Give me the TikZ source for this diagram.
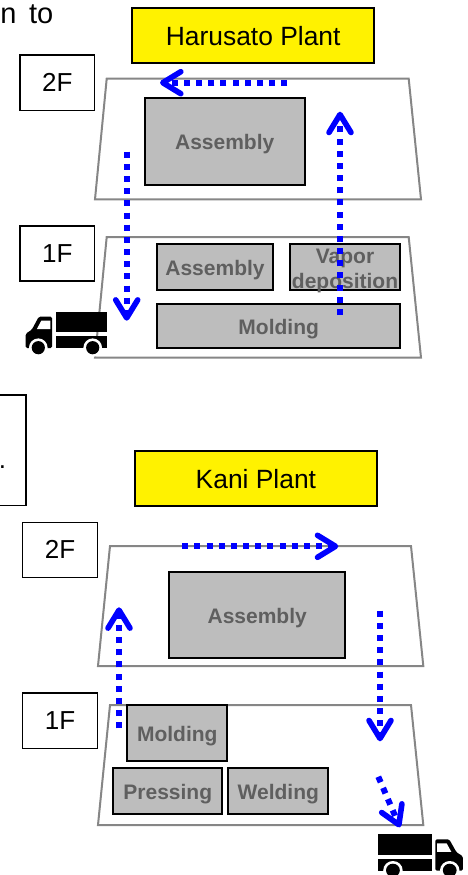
\documentclass[tikz,border=0pt]{standalone}
\usepackage{fontspec}
\setmainfont{Liberation Sans}
\usetikzlibrary{arrows.meta}
\definecolor{boxgray}{HTML}{BDBDBD}
\definecolor{labelgray}{HTML}{5F5F5F}
\definecolor{floorgray}{HTML}{868686}
\definecolor{flowblue}{HTML}{0000FF}
\tikzset{
  title/.style={draw=black,line width=1.8pt,fill=yellow,inner sep=0pt,outer sep=0pt,text height=21pt,text depth=0pt,font=\fontsize{26.4}{28}\selectfont},
  floorbox/.style={draw=black,line width=1.5pt,fill=white,inner sep=0pt,outer sep=0pt,minimum width=74.7pt,minimum height=55.3pt,text height=17.8pt,text depth=0pt,font=\fontsize{26}{28}\selectfont},
  area/.style={draw=black,line width=1.8pt,fill=boxgray,inner sep=0pt,outer sep=0pt,text=labelgray,align=center,text height=16.6pt,text depth=0pt,font=\fontsize{21}{25}\selectfont\bfseries},
  floorline/.style={draw=floorgray,line width=2pt,line join=miter},
  flow/.style={draw=flowblue,line width=6pt,dash pattern=on 6pt off 6.17pt,-{Straight Barb[length=18pt,width=22pt,line width=5.6pt,round]}},
  plain/.style={inner sep=0pt,outer sep=0pt,font=\fontsize{29}{30}\selectfont},
  truck/.pic={
    \fill[black] (30.4,0) rectangle (82,20.3);
    \fill[black] (30.4,24.3) rectangle (82,36.3);
    \fill[black,rounded corners=1.5pt] (26.8,36.3) -- (26.8,5) -- (13.5,5) -- (6.5,18) -- (0.4,22) -- (0.4,36.3) -- cycle;
    \fill[white] (25,9) -- (16,9) -- (11.5,17.5) -- (25,17.5) -- cycle;
    \fill[white] (13,36) circle (9.3);
    \fill[white] (67.4,36) circle (9.3);
    \fill[black] (13,36) circle (6.6);
    \fill[black] (67.4,36) circle (6.6);
  }
}
\begin{document}
\begin{tikzpicture}[x=1pt,y=-1pt]
\useasboundingbox (0,0) rectangle (467,875);
\clip (0,0) rectangle (467,875);

% cut-off texts and box at the left edge
\node[plain,anchor=base west] (cutn) at (0.3,24) {n};
\node[plain,anchor=base west] (cutto) at (29,24) {to};
\node[draw=black,line width=1.5pt,fill=white,inner sep=0pt,outer sep=0pt,minimum width=36pt,minimum height=110.7pt] (cutbox) at (8,450.3) {};
\node[plain,anchor=base west,font=\fontsize{26}{28}\selectfont] (cutdot) at (-1.2,468) {.};

% Harusato Plant
\coordinate (a1) at (106.7,78.7); \coordinate (a2) at (408.7,78.7);
\coordinate (a3) at (421,199.3);  \coordinate (a4) at (95,199.3);
\draw[floorline] (a1) -- (a2) -- (a3) -- (a4) -- cycle;
\coordinate (b1) at (106.7,237); \coordinate (b2) at (408.7,237);
\coordinate (b3) at (421,357.7); \coordinate (b4) at (95,357.7);
\draw[floorline] (b1) -- (b2) -- (b3) -- (b4) -- cycle;
\node[title,minimum width=242.3pt,minimum height=55pt] (hplant) at (253.2,35.2) {Harusato Plant};
\node[floorbox] (h2f) at (57.3,82.8) {2F};
\node[floorbox] (h1f) at (57.3,253.5) {1F};
\node[area,minimum width=160pt,minimum height=86.4pt] (hasm2) at (224.7,141.5) {Assembly};
\node[area,minimum width=115.4pt,minimum height=46pt] (hasm1) at (215,267) {Assembly};
\node[area,minimum width=110pt,minimum height=46pt,text height=42.6pt] (hvap) at (345,267) {Vapor\\deposition};
\node[area,minimum width=242.7pt,minimum height=43.4pt] (hmold) at (278.7,326) {Molding};
\pic (htruck) at (25.3,311.7) {truck};
\coordinate (f1s) at (287.3,82.7); \coordinate (f1e) at (160,82.7);
\coordinate (f2s) at (126.7,151.7); \coordinate (f2e) at (126.7,320.7);
\coordinate (f3s) at (340,315); \coordinate (f3e) at (340,111.7);
\draw[flow] (f1s) -- (f1e);
\draw[flow] (f2s) -- (f2e);
\draw[flow] (f3s) -- (f3e);

% Kani Plant
\coordinate (c1) at (110,546); \coordinate (c2) at (411,546);
\coordinate (c3) at (423.3,666); \coordinate (c4) at (98,666);
\draw[floorline] (c1) -- (c2) -- (c3) -- (c4) -- cycle;
\coordinate (d1) at (110,705); \coordinate (d2) at (411,705);
\coordinate (d3) at (423.3,825); \coordinate (d4) at (98,825);
\draw[floorline] (d1) -- (d2) -- (d3) -- (d4) -- cycle;
\node[title,minimum width=242.3pt,minimum height=55.3pt] (kplant) at (255.9,478.3) {Kani Plant};
\node[floorbox] (k2f) at (60,550) {2F};
\node[floorbox] (k1f) at (60,720.7) {1F};
\node[area,minimum width=175.7pt,minimum height=86.3pt] (kasm) at (257.2,614.8) {Assembly};
\node[area,minimum width=100pt,minimum height=55.7pt] (kmold) at (177.3,732.8) {Molding};
\node[area,minimum width=109pt,minimum height=46.3pt] (kpress) at (167.8,790.8) {Pressing};
\node[area,minimum width=100pt,minimum height=46.3pt] (kweld) at (278.3,790.8) {Welding};
\pic[xscale=-1.044] (ktruck) at (463.3,834.3) {truck};
\coordinate (g1s) at (182.3,546.3); \coordinate (g1e) at (338.3,546.3);
\coordinate (g2s) at (119,728.3); \coordinate (g2e) at (119,607.3);
\coordinate (g3s) at (380,610.7); \coordinate (g3e) at (380,741.3);
\coordinate (g4s) at (378.3,776.7); \coordinate (g4e) at (400,827.3);
\draw[flow] (g1s) -- (g1e);
\draw[flow] (g2s) -- (g2e);
\draw[flow] (g3s) -- (g3e);
\draw[flow] (g4s) -- (g4e);
\end{tikzpicture}
\end{document}
